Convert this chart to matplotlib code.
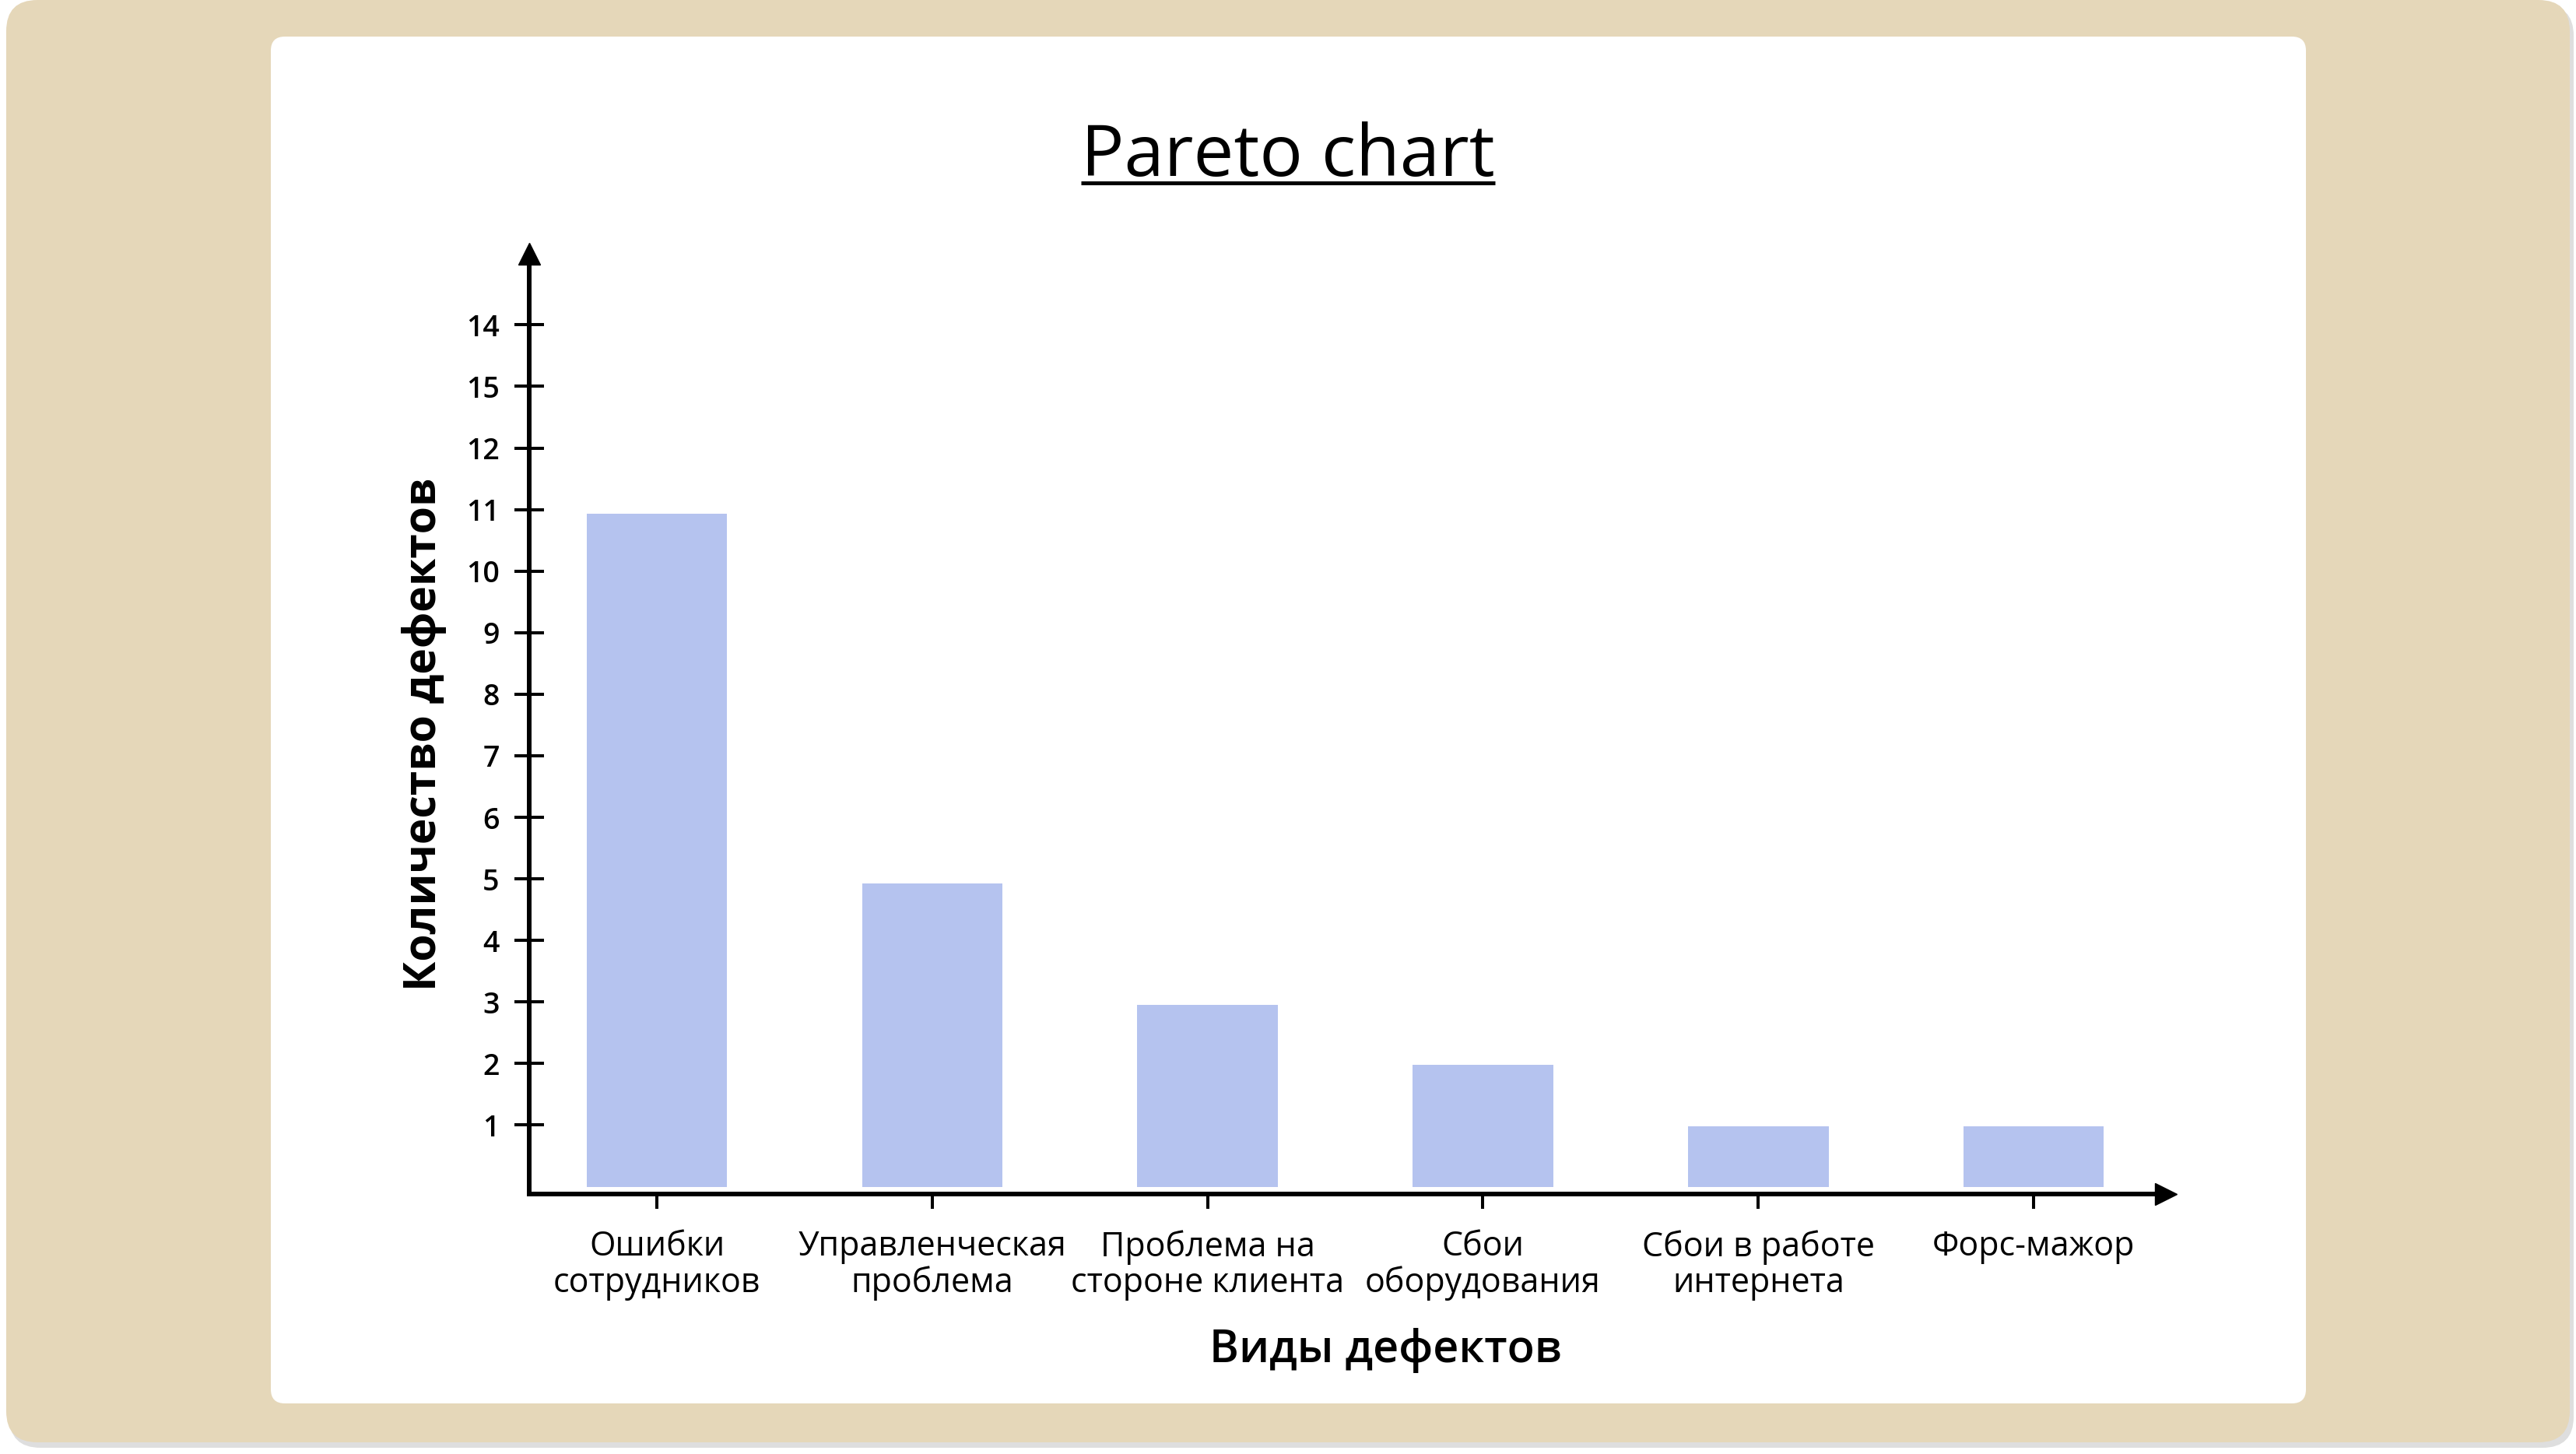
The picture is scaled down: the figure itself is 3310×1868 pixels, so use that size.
import matplotlib
matplotlib.use("Agg")
import matplotlib.pyplot as plt
from matplotlib.patches import FancyBboxPatch
import numpy as np

# ---------------- data ----------------
categories = ["Ошибки\nсотрудников", "Управленческая\nпроблема", "Проблема на\nстороне клиента",
              "Сбои\nоборудования", "Сбои в работе\nинтернета", "Форс-мажор"]
defects = [10.93, 4.93, 2.95, 1.98, 0.98, 0.98]
ytick_values = list(range(1, 15))
ytick_labels = ["1", "2", "3", "4", "5", "6", "7", "8", "9", "10", "11", "12", "15", "14"]
title = "Pareto chart"
xlabel = "Виды дефектов"
ylabel = "Количество дефектов"

# ---------------- style ----------------
plt.rcParams["font.family"] = ["Open Sans", "DejaVu Sans"]
BAR_COLOR = "#B5C3EF"
BEIGE = "#E5D7B9"

W, H = 3310, 1868
DPI = 100
fig = plt.figure(figsize=(W / DPI, H / DPI), dpi=DPI)
fig.patch.set_facecolor("white")

# background layer in pixel coordinates
bg = fig.add_axes([0, 0, 1, 1], zorder=0)
bg.set_xlim(0, W)
bg.set_ylim(H, 0)
bg.axis("off")


def rbox(x0, y0, x1, y1, r, **kw):
    p = FancyBboxPatch((x0, y0), x1 - x0, y1 - y0,
                       boxstyle=f"round,pad=0,rounding_size={r}", **kw)
    bg.add_patch(p)
    return p


rbox(12, 6, 3307, 1860, 40, fc="#c8c8c8", ec="none", alpha=0.6)
rbox(8, 0, 3302, 1853, 40, fc=BEIGE, ec="none")
rbox(348, 47, 2963, 1803, 18, fc="white", ec="none")

# ---------------- main axes ----------------
L, R, B, T = 680, 2783, 1534, 326
ax = fig.add_axes([L / W, 1 - B / H, (R - L) / W, (B - T) / H], zorder=1)
ax.patch.set_alpha(0)

x = np.arange(len(categories))
ax.bar(x, defects, width=0.51, color=BAR_COLOR, zorder=2)
ax.set_xlim(-0.4635, 5.48)
ax.set_ylim(-0.12, 15.156)

for s in ["top", "right"]:
    ax.spines[s].set_visible(False)
for s in ["left", "bottom"]:
    ax.spines[s].set_linewidth(4.3)
    ax.spines[s].set_color("black")
    ax.spines[s].set_zorder(3)

# arrow heads
ax.plot([1], [0], marker=">", ms=20, color="black", transform=ax.transAxes, clip_on=False, zorder=4)
ax.plot([0], [1], marker="^", ms=20, color="black", transform=ax.transAxes, clip_on=False, zorder=4)

ax.set_yticks(ytick_values)
ax.set_yticklabels(ytick_labels, fontweight="semibold")
ax.tick_params(axis="y", direction="inout", length=27, width=2.9, pad=14, labelsize=27)
ax.set_xticks(x)
ax.set_xticklabels(categories, linespacing=1.05, fontweight="medium")
ax.tick_params(axis="x", direction="out", length=14, width=2.9, pad=19, labelsize=31)

# ---------------- texts ----------------
t = bg.text(1655, 226, title, ha="center", va="baseline", fontsize=66.5,
            fontweight="medium", color="black")
bg.text(545, 943, ylabel, rotation=90, ha="center", va="center", fontsize=41, weight="bold")
bg.text(1780, 1735, xlabel, ha="center", va="center", fontsize=41.5, weight="semibold")

# underline for the title
fig.canvas.draw()
bb = t.get_window_extent()
inv = bg.transData.inverted()
(x0, _), (x1, _) = inv.transform([(bb.x0, bb.y0), (bb.x1, bb.y0)])
bg.plot([x0, x1], [235, 235], color="black", lw=3.6, solid_capstyle="butt")

fig.savefig("out.png", dpi=DPI, facecolor="white")
